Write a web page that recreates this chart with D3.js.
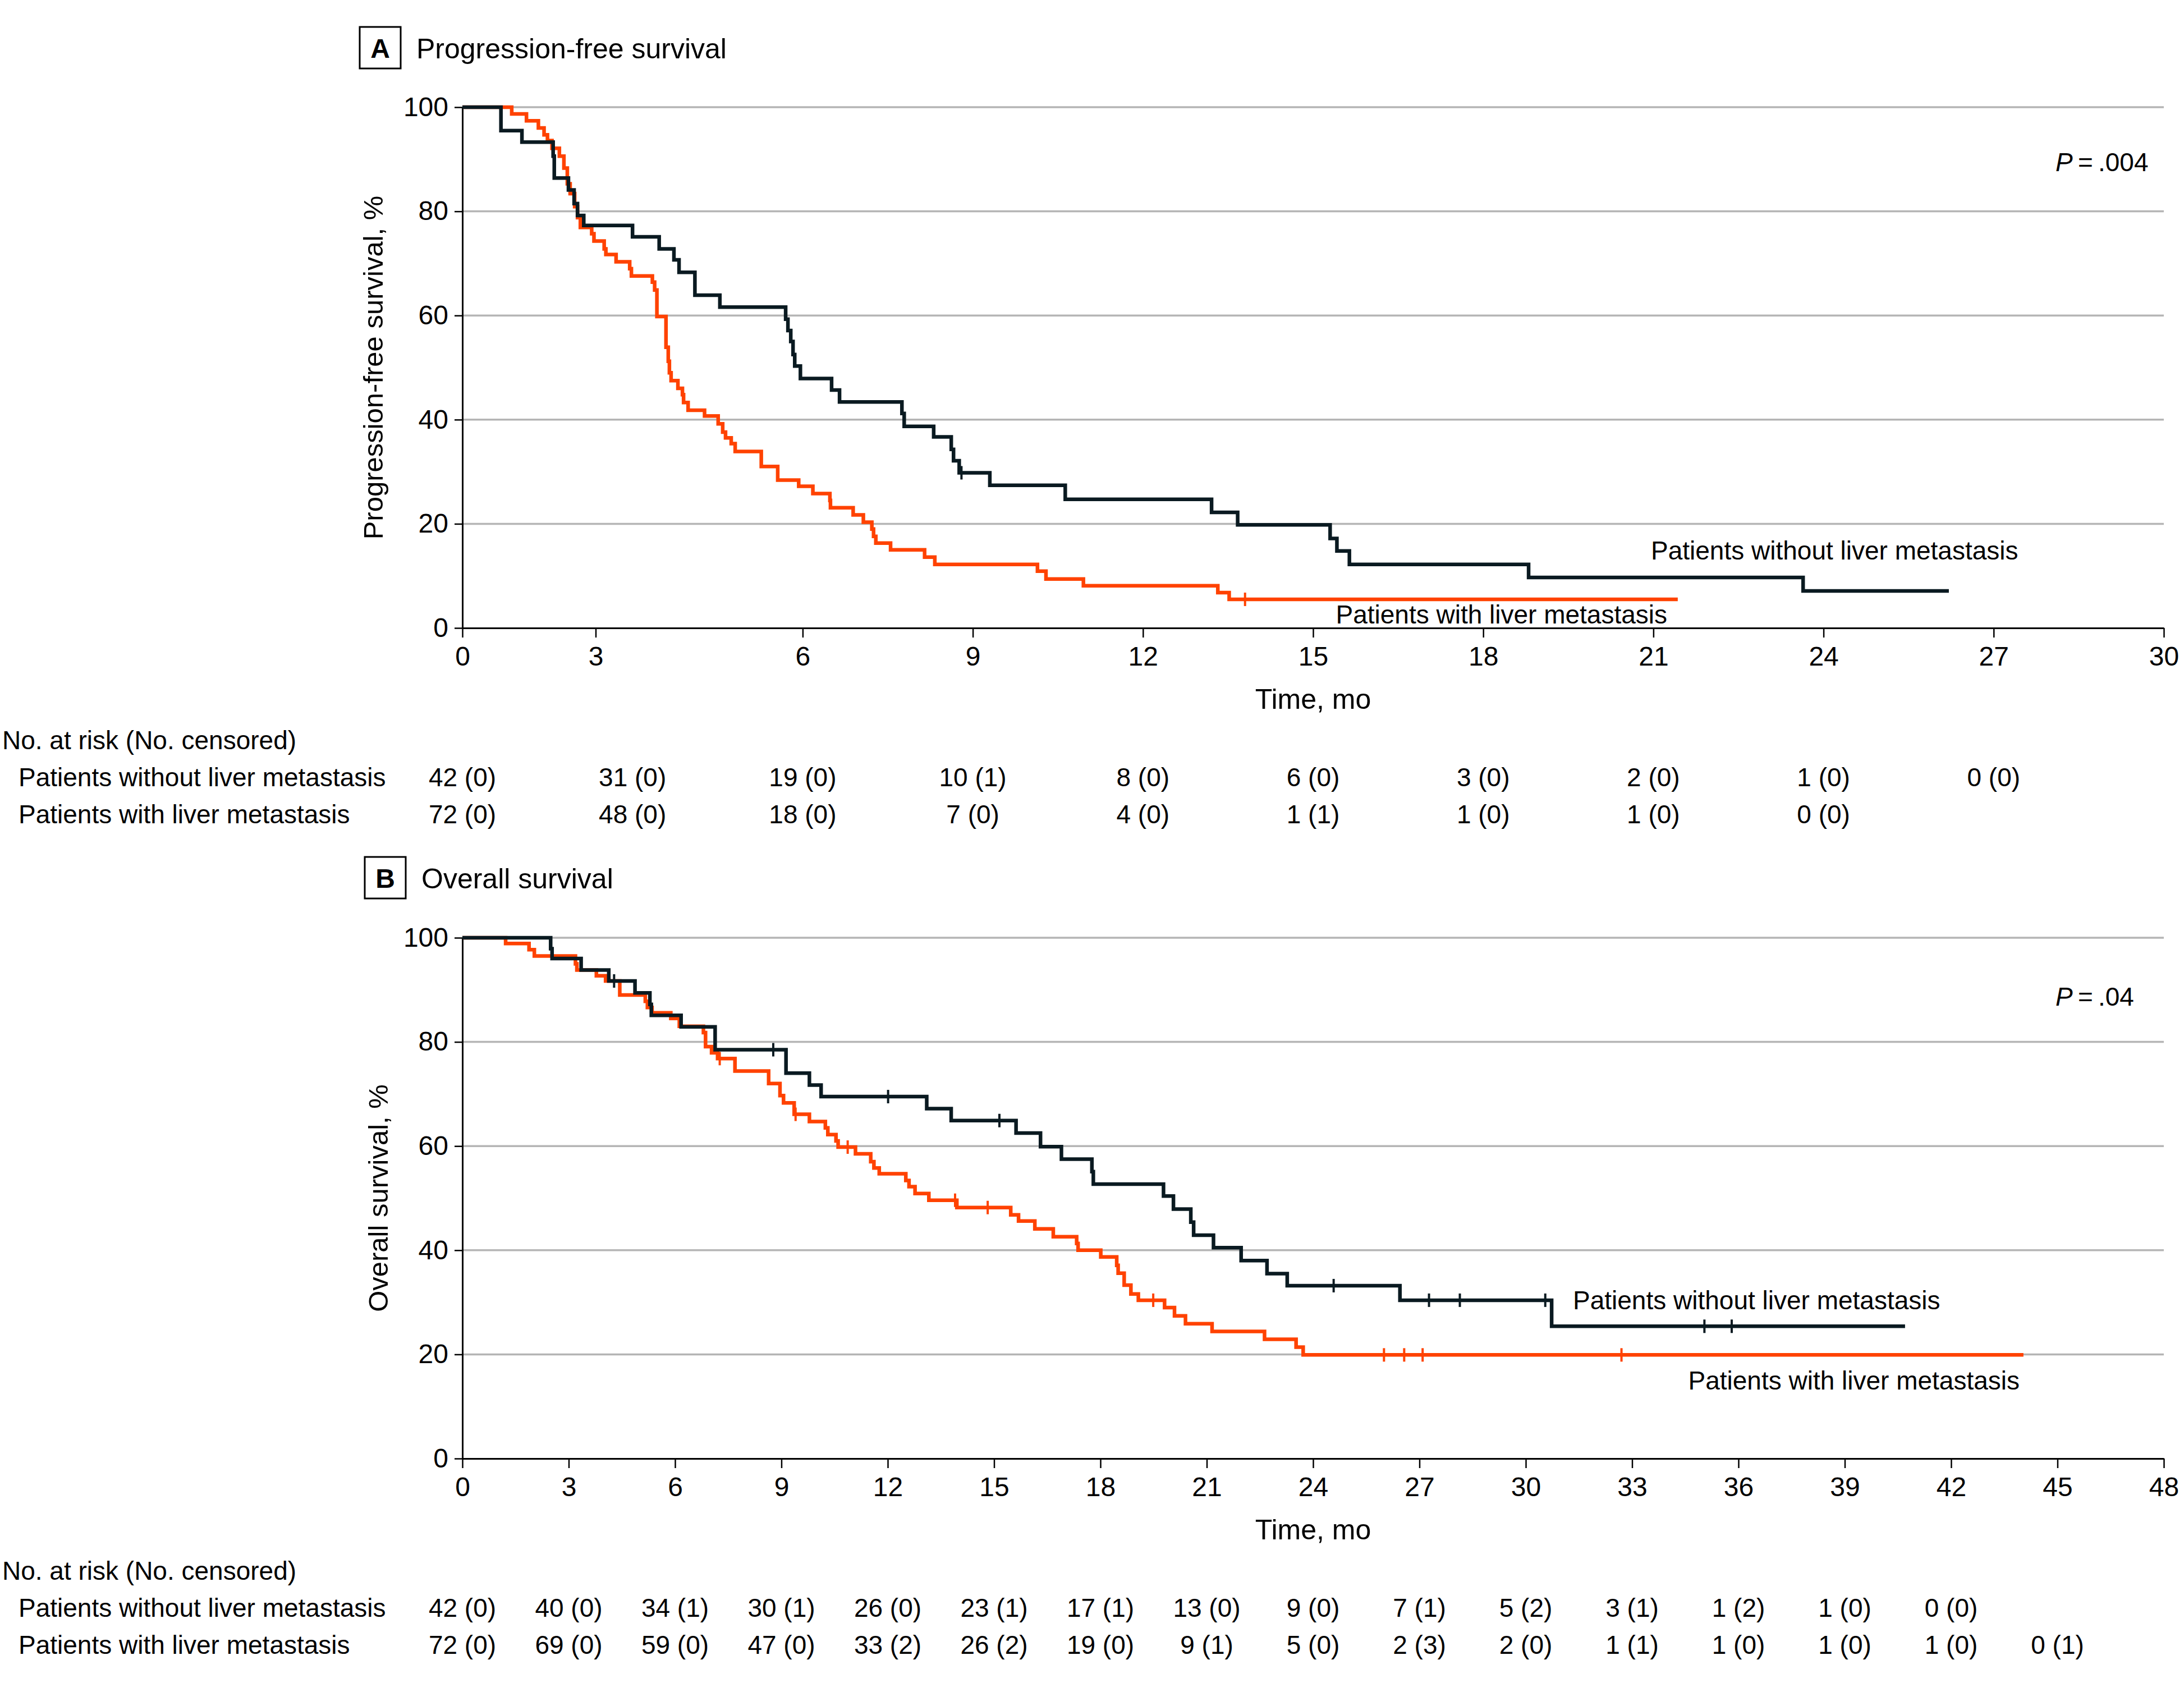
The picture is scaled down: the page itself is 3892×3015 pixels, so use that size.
<!DOCTYPE html>
<html>
<head>
<meta charset="utf-8">
<script src="https://cdn.jsdelivr.net/npm/d3@7"></script>
<style>
  html, body { margin: 0; padding: 0; background: #ffffff; }
  svg text { font-family: "Liberation Sans", Arial, Helvetica, sans-serif; fill: #000; }
</style>
</head>
<body>
<svg id="chart" width="3892" height="3015"></svg>
<script>
// ---------------- DATA ----------------
// Panel A: progression-free survival (time in months, survival in %)
const pfsWithoutSteps = [[0,100],[0.68,95.5],[1.05,93.3],[1.60,90.6],[1.62,86.4],[1.87,84.1],[1.97,81.5],[2.03,79.2],[2.14,77.3],[3.00,75.1],[3.47,72.8],[3.73,70.7],[3.82,68.3],[4.10,63.9],[4.54,61.6],[5.70,59.3],[5.74,57.1],[5.79,55.0],[5.83,52.5],[5.86,50.3],[5.96,47.9],[6.51,45.7],[6.65,43.4],[7.75,41.2],[7.79,38.7],[8.31,36.7],[8.62,34.3],[8.66,32.1],[8.76,29.8],[9.30,27.4],[10.63,24.7],[13.21,22.2],[13.67,19.8],[15.30,17.2],[15.42,14.8],[15.64,12.2],[18.80,9.7],[23.64,7.1]];
const pfsWithoutEnd = 26.21;
const pfsWithoutCensored = [8.80];

const pfsWithSteps = [[0,100],[0.87,98.7],[1.13,97.4],[1.34,96.0],[1.44,94.7],[1.50,93.6],[1.58,92.1],[1.71,90.6],[1.79,88.3],[1.85,85.3],[1.90,83.4],[1.98,80.9],[2.03,78.8],[2.08,76.9],[2.28,75.7],[2.32,74.3],[2.50,72.8],[2.53,71.7],[2.71,70.3],[2.95,69.0],[2.98,67.6],[3.35,66.4],[3.39,64.9],[3.43,59.8],[3.59,53.9],[3.63,51.2],[3.65,49.0],[3.68,47.5],[3.80,46.0],[3.88,44.8],[3.90,43.3],[3.98,41.8],[4.27,40.7],[4.51,39.2],[4.59,37.6],[4.64,36.5],[4.74,35.4],[4.81,33.9],[5.27,31.0],[5.56,28.4],[5.93,27.2],[6.18,25.8],[6.48,24.5],[6.49,23.1],[6.89,21.7],[7.07,20.3],[7.22,19.0],[7.25,17.6],[7.29,16.3],[7.55,15.0],[8.15,13.6],[8.33,12.2],[10.14,10.9],[10.29,9.4],[10.95,8.1],[13.32,6.8],[13.52,5.5]];
const pfsWithEnd = 21.43;
const pfsWithCensored = [13.80];

// Panel B: overall survival
const osWithoutSteps = [[0,100],[2.49,97.9],[2.53,96.0],[3.35,93.8],[4.13,91.7],[4.87,89.4],[5.29,87.2],[5.33,85.1],[6.17,82.9],[7.13,78.5],[9.13,74.0],[9.79,71.7],[10.12,69.5],[13.10,67.2],[13.79,64.9],[15.62,62.5],[16.31,59.9],[16.90,57.5],[17.76,55.1],[17.80,52.7],[19.78,50.4],[20.06,47.9],[20.55,45.4],[20.63,42.9],[21.19,40.5],[21.97,38.0],[22.70,35.5],[23.27,33.2],[26.45,30.4],[30.73,25.4]];
const osWithoutEnd = 40.70;
const osWithoutCensored = [4.28, 8.77, 12.01, 15.15, 24.58, 27.27, 28.14, 30.55, 35.04, 35.81];

const osWithSteps = [[0,100],[1.22,98.9],[1.88,97.7],[2.03,96.5],[3.19,95.0],[3.23,93.8],[3.78,92.7],[4.04,91.7],[4.44,89.0],[5.16,87.8],[5.22,86.6],[5.35,85.6],[5.88,84.5],[6.12,83.0],[6.80,81.8],[6.86,79.1],[7.03,77.9],[7.20,76.8],[7.69,74.4],[8.64,72.0],[8.96,69.7],[9.06,68.3],[9.36,66.1],[9.79,64.7],[10.24,63.5],[10.31,62.2],[10.54,61.0],[10.60,59.8],[11.09,58.5],[11.52,57.0],[11.61,55.8],[11.76,54.7],[12.51,53.4],[12.60,52.2],[12.77,50.9],[13.16,49.6],[13.95,48.2],[15.47,46.8],[15.69,45.6],[16.15,44.1],[16.67,42.6],[17.33,41.3],[17.37,40.0],[18.01,38.7],[18.46,37.1],[18.50,35.6],[18.67,33.3],[18.86,31.6],[19.07,30.4],[19.81,29.0],[20.09,27.4],[20.40,25.9],[21.15,24.4],[22.63,22.9],[23.52,21.4],[23.72,19.9]];
const osWithEnd = 44.04;
const osWithCensored = [7.26, 9.40, 10.87, 13.90, 14.82, 19.49, 26.00, 26.57, 27.09, 32.70];

// Axis ticks
const yTicks = [0, 20, 40, 60, 80, 100];
const pfsTickPos = [0, 2.35, 6, 9, 12, 15, 18, 21, 24, 27, 30];
const pfsTickLabels = ["0","3","6","9","12","15","18","21","24","27","30"];
const osTicks = [0,3,6,9,12,15,18,21,24,27,30,33,36,39,42,45,48];

// Numbers at risk
const pfsRiskTimes = [0,3,6,9,12,15,18,21,24,27];
const pfsRiskWithout = ["42 (0)","31 (0)","19 (0)","10 (1)","8 (0)","6 (0)","3 (0)","2 (0)","1 (0)","0 (0)"];
const pfsRiskWith = ["72 (0)","48 (0)","18 (0)","7 (0)","4 (0)","1 (1)","1 (0)","1 (0)","0 (0)"];
const osRiskTimes = [0,3,6,9,12,15,18,21,24,27,30,33,36,39,42,45];
const osRiskWithout = ["42 (0)","40 (0)","34 (1)","30 (1)","26 (0)","23 (1)","17 (1)","13 (0)","9 (0)","7 (1)","5 (2)","3 (1)","1 (2)","1 (0)","0 (0)"];
const osRiskWith = ["72 (0)","69 (0)","59 (0)","47 (0)","33 (2)","26 (2)","19 (0)","9 (1)","5 (0)","2 (3)","2 (0)","1 (1)","1 (0)","1 (0)","1 (0)","0 (1)"];

const groupNames = ["Patients without liver metastasis", "Patients with liver metastasis"];

// ---------------- DRAWING ----------------
const svg = d3.select("#chart");
svg.append("rect").attr("width", 3892).attr("height", 3015).attr("fill", "#fff");

const COL_WITHOUT = "#0a1a21";
const COL_WITH = "#ff4200";
const GRID = "#b5b5b5";

function survAt(steps, t) {
  let s = steps[0][1];
  for (const [tt, v] of steps) { if (tt <= t) s = v; else break; }
  return s;
}

function drawPanel(cfg) {
  const g = svg.append("g");
  const x = d3.scaleLinear().domain([0, cfg.xMax]).range([824, 3856]);
  const y = d3.scaleLinear().domain([0, 100]).range([cfg.y0, cfg.y0 - 928]);

  // Panel letter box and title
  g.append("rect").attr("x", cfg.boxX).attr("y", cfg.boxY).attr("width", 73).attr("height", 74)
    .attr("fill", "none").attr("stroke", "#000").attr("stroke-width", 3);
  g.append("text").attr("x", cfg.boxX + 36.5).attr("y", cfg.boxY + 55).attr("text-anchor", "middle")
    .attr("font-size", 48).attr("font-weight", "bold").text(cfg.letter);
  g.append("text").attr("x", cfg.boxX + 101).attr("y", cfg.boxY + 56).attr("font-size", 50).text(cfg.title);

  // Grid lines
  g.selectAll("line.grid").data(yTicks.filter(d => d > 0)).join("line")
    .attr("class", "grid")
    .attr("x1", x(0)).attr("x2", x(cfg.xMax))
    .attr("y1", d => y(d)).attr("y2", d => y(d))
    .attr("stroke", GRID).attr("stroke-width", 3.5);

  // Axes
  const xAxis = d3.axisBottom(x).tickValues(cfg.tickPos).tickFormat((d, i) => cfg.tickLabels[i])
    .tickSize(17).tickSizeOuter(0).tickPadding(16);
  const gx = g.append("g").attr("transform", `translate(0,${y(0)})`).call(xAxis);
  gx.selectAll("text").attr("font-size", 48).attr("font-family", "Liberation Sans, Arial, sans-serif").attr("fill", "#000");
  gx.selectAll("line").attr("stroke", "#000").attr("stroke-width", 2.5);
  gx.select(".domain").attr("stroke", "#000").attr("stroke-width", 3);

  const yAxis = d3.axisLeft(y).tickValues(yTicks).tickSize(14).tickSizeOuter(0).tickPadding(11);
  const gy = g.append("g").attr("transform", `translate(${x(0)},0)`).call(yAxis);
  gy.selectAll("text").attr("font-size", 48).attr("font-family", "Liberation Sans, Arial, sans-serif").attr("fill", "#000");
  gy.selectAll("line").attr("stroke", "#000").attr("stroke-width", 2.5);
  gy.select(".domain").attr("stroke", "#000").attr("stroke-width", 3);

  // Axis titles
  g.append("text").attr("x", (x(0) + x(cfg.xMax)) / 2).attr("y", y(0) + 144)
    .attr("text-anchor", "middle").attr("font-size", 50).text("Time, mo");
  g.append("text").attr("transform", `translate(${cfg.yTitleX},${(y(0) + y(100)) / 2}) rotate(-90)`)
    .attr("text-anchor", "middle").attr("font-size", 49).text(cfg.yTitle);

  // P value
  const pt = g.append("text").attr("x", 3663).attr("y", y(100) + cfg.pDy).attr("font-size", 46);
  pt.append("tspan").attr("font-style", "italic").text("P");
  pt.append("tspan").text("\u2009=\u2009.");
  pt.append("tspan").text(cfg.pVal);

  // Curves (red drawn first so the dark curve sits on top where they overlap)
  const line = d3.line().x(d => x(d[0])).y(d => y(d[1])).curve(d3.curveStepAfter);
  cfg.series.slice().reverse().forEach(s => {
    const pts = s.steps.concat([[s.end, s.steps[s.steps.length - 1][1]]]);
    g.append("path").datum(pts).attr("d", line)
      .attr("fill", "none").attr("stroke", s.color).attr("stroke-width", 6.5)
      .attr("stroke-linejoin", "miter").attr("stroke-linecap", "butt");
    g.selectAll(null).data(s.censored).join("line")
      .attr("x1", d => x(d)).attr("x2", d => x(d))
      .attr("y1", d => y(survAt(s.steps, d)) - 12).attr("y2", d => y(survAt(s.steps, d)) + 12)
      .attr("stroke", s.color).attr("stroke-width", 4);
    g.append("text").attr("x", s.labelX).attr("y", s.labelY).attr("font-size", 46)
      .attr("text-anchor", s.anchor).text(s.name);
  });

  // Numbers at risk table
  const tb = cfg.tableY;
  g.append("text").attr("x", 4).attr("y", tb).attr("font-size", 46).text("No. at risk (No. censored)");
  cfg.risk.forEach((r, i) => {
    const ry = tb + 66 * (i + 1);
    g.append("text").attr("x", 33).attr("y", ry).attr("font-size", 46).text(groupNames[i]);
    g.selectAll(null).data(r).join("text")
      .attr("x", (d, j) => x(cfg.riskTimes[j])).attr("y", ry)
      .attr("text-anchor", "middle").attr("font-size", 46).text(d => d);
  });
}

drawPanel({
  letter: "A", title: "Progression-free survival", boxX: 641, boxY: 48,
  xMax: 30, y0: 1119, tickPos: pfsTickPos, tickLabels: pfsTickLabels,
  yTitle: "Progression-free survival, %", yTitleX: 682,
  pVal: "004", pDy: 114,
  series: [
    { name: groupNames[0], steps: pfsWithoutSteps, end: pfsWithoutEnd, censored: pfsWithoutCensored, color: COL_WITHOUT, labelX: 2942, labelY: 997, anchor: "start" },
    { name: groupNames[1], steps: pfsWithSteps, end: pfsWithEnd, censored: pfsWithCensored, color: COL_WITH, labelX: 2971, labelY: 1111, anchor: "end" }
  ],
  tableY: 1335, riskTimes: pfsRiskTimes, risk: [pfsRiskWithout, pfsRiskWith]
});

drawPanel({
  letter: "B", title: "Overall survival", boxX: 650, boxY: 1527,
  xMax: 48, y0: 2599, tickPos: osTicks, tickLabels: osTicks.map(String),
  yTitle: "Overall survival, %", yTitleX: 691,
  pVal: "04", pDy: 121,
  series: [
    { name: groupNames[0], steps: osWithoutSteps, end: osWithoutEnd, censored: osWithoutCensored, color: COL_WITHOUT, labelX: 2803, labelY: 2333, anchor: "start" },
    { name: groupNames[1], steps: osWithSteps, end: osWithEnd, censored: osWithCensored, color: COL_WITH, labelX: 3599, labelY: 2476, anchor: "end" }
  ],
  tableY: 2815, riskTimes: osRiskTimes, risk: [osRiskWithout, osRiskWith]
});
</script>
</body>
</html>
